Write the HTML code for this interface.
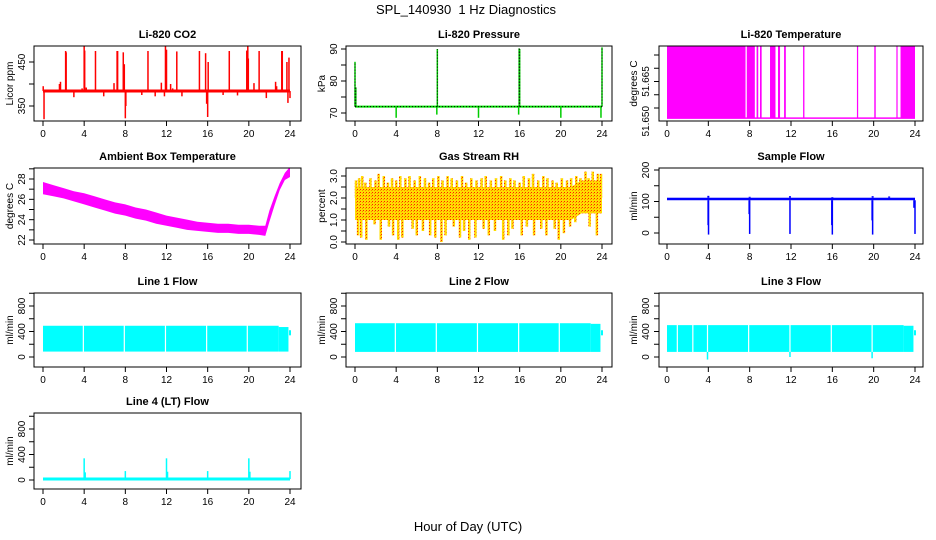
<!DOCTYPE html>
<html><head><meta charset="utf-8">
<style>
html,body{margin:0;padding:0;background:#fff;}
svg{display:block;font-family:"Liberation Sans",Arial,sans-serif;}
</style></head>
<body>
<svg id="chart" width="936" height="540" viewBox="0 0 936 540" xmlns="http://www.w3.org/2000/svg">
<defs>
<pattern id="rhpat" patternUnits="userSpaceOnUse" width="3" height="3">
<rect width="3" height="3" fill="#ffdd00"/>
<rect x="0" y="0" width="1" height="1" fill="#ff2000"/>
<rect x="2" y="1" width="1" height="1" fill="#ff8800"/>
</pattern>
</defs>
<text x="466" y="14" font-size="13" text-anchor="middle">SPL_140930&#160; 1 Hz Diagnostics</text>
<text x="468" y="531" font-size="13" text-anchor="middle">Hour of Day (UTC)</text>
</svg>
<script>
// ---------- data ----------
const xTicks = [0,4,8,12,16,20,24];

const co2Base = 384;
const co2SpikeT = [0.02,0.1,1.6,1.7,2.2,2.25,3.0,3.8,4.0,4.05,4.2,5.1,5.9,6.9,7.2,7.25,7.8,7.9,8.0,8.05,9.6,10.2,10.9,11.5,11.8,11.9,12.0,12.4,12.6,13.0,13.5,15.2,15.8,15.9,16.0,16.05,17.5,18.1,18.9,19.8,19.9,19.95,20.5,21.0,21.7,22.6,22.7,23.2,23.25,23.7,23.8,23.9,24.0];
const co2SpikeV = [395,320,400,405,475,472,370,390,487,476,392,475,372,402,475,475,472,445,322,350,375,475,372,403,372,487,478,400,390,474,372,475,470,355,325,450,375,475,374,476,487,458,402,475,368,405,395,475,475,450,357,460,368];
const co2Ticks = [350,400,450];
const co2Labels = ["350","","450"];

const presBase = 72;
const presUpT = [0.0,0.08,8.0,15.95,16.0,24.0];
const presUpV = [86,78,90,90.2,90,90.5];
const presDnT = [4.0,7.95,12.0,15.9,20.0,23.9];
const presDnV = [68.5,69.5,68.5,69.5,68.5,68.5];
const presTicks = [70,75,80,85,90];
const presLabels = ["70","","80","","90"];

const ltHigh = 51.6735, ltLow = 51.6462;
const ltStart = [0,7.72,8.67,9.0,9.97,10.74,11.33,13.17,18.38,20.06,22.2,22.6];
const ltEnd   = [7.6,8.5,8.83,9.16,10.5,10.94,11.5,13.3,18.5,20.2,22.3,24];
const ltTicks = [51.65,51.655,51.66,51.665,51.67];
const ltLabelV = [51.645,51.66];
const ltLabels = ["51.650","51.665"];

const ambT  = [0,1,2,3,4,5,6,7,8,9,10,11,12,13,14,15,16,17,18,19,20,21,21.6,22,22.5,23,23.5,24];
const ambHi = [27.7,27.4,27.1,26.8,26.6,26.3,26.0,25.7,25.5,25.2,25.0,24.7,24.4,24.2,24.0,23.8,23.7,23.6,23.6,23.5,23.5,23.4,23.4,24.9,26.3,27.6,28.6,29.2];
const ambLo = [26.5,26.3,26.1,25.8,25.5,25.2,24.9,24.6,24.4,24.1,23.9,23.6,23.4,23.2,23.0,22.9,22.8,22.7,22.7,22.6,22.6,22.5,22.4,23.8,25.4,26.9,27.9,28.2];
const ambTicks = [22,23,24,25,26,27,28,29];
const ambLabels = ["22","","24","","26","","28",""];

const rhCoreT  = [0,21,22,24];
const rhCoreHi = [2.5,2.5,2.8,2.8];
const rhCoreLo = [1.0,1.0,1.3,1.3];
const rhUpT = [0.1,0.4,0.7,1.0,1.5,2.0,2.3,2.8,3.2,3.6,4.0,4.4,4.9,5.3,5.8,6.3,6.8,7.2,7.6,8.1,8.5,9.0,9.4,9.9,10.4,10.8,11.3,11.8,12.3,12.7,13.2,13.7,14.2,14.6,15.1,15.5,16.0,16.4,16.9,17.3,17.8,18.3,18.7,19.2,19.6,20.1,20.6,21.0,21.5,21.9,22.4,22.7,23.1,23.6,23.9];
const rhUpV = [2.8,2.9,3.0,2.7,2.9,2.8,3.1,3.0,2.7,2.9,2.8,3.0,2.9,3.0,2.8,3.0,2.9,2.7,2.9,3.0,2.8,3.0,2.9,2.8,3.0,2.7,2.9,2.8,2.9,3.0,2.8,2.9,3.0,2.8,2.9,2.8,2.7,3.0,2.9,3.1,2.8,3.0,2.9,2.8,2.7,2.9,2.8,2.9,3.0,2.9,3.2,2.9,3.2,3.1,3.1];
const rhDnT = [0.3,0.6,1.1,1.9,2.5,3.3,3.7,4.2,4.6,5.6,6.0,6.6,7.3,7.8,8.4,8.8,9.6,10.2,10.6,11.1,11.7,12.5,13.0,13.6,14.4,14.9,15.3,16.2,16.7,17.4,18.1,18.6,19.4,19.8,20.3,20.9,21.4,22.8,23.5];
const rhDnV = [0.3,0.2,0.1,0.8,0.1,0.7,0.3,0.1,0.2,0.6,0.3,0.5,0.3,0.2,0.0,0.3,0.7,0.2,0.5,0.1,0.2,0.6,0.3,0.5,0.1,0.3,0.6,0.3,0.7,0.3,0.6,0.3,0.6,0.1,0.4,0.7,0.9,0.7,0.3];
const rhTicks = [0,0.5,1,1.5,2,2.5,3];
const rhLabels = ["0.0","","1.0","","2.0","","3.0"];

const sfHi = 112, sfLo = 104;
const sfDnT = [3.98,4.02,7.95,8.0,11.9,15.95,16.0,19.85,19.9,23.9,24.0];
const sfDnV = [25,-5,60,-3,-3,25,-5,40,-5,80,-3];
const sfUpT = [4.0,8.0,11.9,16.0,19.9,21.5];
const sfUpV = [118,115,117,114,117,116];
const sfTicks = [0,50,100,150,200];
const sfLabels = ["0","","100","","200"];

const flowTicks = [0,200,400,600,800,1000];
const flowLabels = ["0","","400","","800",""];

const l1Top = 490, l1Bot = 85, l1EndTop = 470;
const l1Gaps = [3.92,7.9,11.9,15.9,19.85];
const l2Top = 530, l2Bot = 80, l2EndTop = 520;
const l2Gaps = [3.92,7.9,11.9,15.9,19.85];
const l3Top = 500, l3Bot = 80, l3EndTop = 490;
const l3Gaps = [1.0,2.5,3.92,7.9,11.9,15.9,19.85];
const l3DipT = [3.92,11.9,19.85];
const l3DipV = [-40,0,-20];

const l4Base = 15;
const l4SpikeT = [4.0,4.1,8.0,12.0,12.1,16.0,20.0,20.1,24.0];
const l4SpikeV = [340,120,140,340,130,140,340,130,140];

// ---------- layout ----------
const svg = document.getElementById('chart');
const NS = 'http://www.w3.org/2000/svg';
const cols = [{l:34,r:301,x0:43,x24:290,ylab:13,tlab:25},{l:346,r:612,x0:355,x24:602,ylab:325,tlab:337},{l:659,r:923,x0:667,x24:915,ylab:637,tlab:649}];
const rows = [{t:46,b:121},{t:168,b:244},{t:293,b:367},{t:413,b:489}];

function el(tag, attrs, parent){
  const e = document.createElementNS(NS, tag);
  for (const k in attrs) e.setAttribute(k, attrs[k]);
  (parent||svg).appendChild(e);
  return e;
}

function makePanel(name, title, ylab, ci, ri, v1, p1, v2, p2, ticks, labels){
  const c = cols[ci], r = rows[ri];
  const g = el('g', {});
  
  
  const P = {g, c, r,
    x: t => c.x0 + (c.x24 - c.x0) * t / 24,
    y: v => p1 + (p2 - p1) * (v - v1) / (v2 - v1)};
  const clip = el('clipPath', {id: 'clip-' + name}, g);
  el('rect', {x:c.l, y:r.t, width:c.r-c.l, height:r.b-r.t}, clip);
  P.plot = el('g', {'clip-path':'url(#clip-' + name + ')'}, g);
  
  
  P.finish = function(){
    const box = el('rect', {x:c.l, y:r.t, width:c.r-c.l, height:r.b-r.t, fill:'none', stroke:'#000', 'stroke-width':1}, g);
    
    
    const t = el('text', {x:(c.l+c.r)/2, y:r.t-8, 'font-size':11, 'font-weight':'bold', 'text-anchor':'middle'}, g);
    t.textContent = title;
    
    
    const yl = el('text', {x:c.ylab, y:(r.t+r.b)/2, 'font-size':10, 'text-anchor':'middle', transform:'rotate(-90 ' + c.ylab + ' ' + (r.t+r.b)/2 + ')'}, g);
    yl.textContent = ylab;
    
    
    const xa = el('g', {}, g);
    
    
    xTicks.forEach(tv => {
      const px = P.x(tv);
      el('line', {x1:px, x2:px, y1:r.b, y2:r.b+5, stroke:'#000'}, xa);
      const tl = el('text', {x:px, y:r.b+16, 'font-size':10, 'text-anchor':'middle'}, xa);
      tl.textContent = tv;
      
      
    });
    const ya = el('g', {}, g);
    
    
    ticks.forEach((tv, i) => {
      const py = P.y(tv);
      el('line', {x1:c.l-5, x2:c.l, y1:py, y2:py, stroke:'#000'}, ya);
      if (labels && labels[i]) {
        const tl = el('text', {x:c.tlab, y:py, 'font-size':10, 'text-anchor':'middle', transform:'rotate(-90 ' + c.tlab + ' ' + py + ')'}, ya);
        tl.textContent = labels[i];
        
        
      }
    });
    return ya;
  };
  return P;
}
function vline(P, t, a, b, color, w){
  return el('line', {x1:P.x(t), x2:P.x(t), y1:P.y(a), y2:P.y(b), stroke:color, 'stroke-width':w||1}, P.plot);
}
function band(P, ts, hi, lo, fill){
  let pts = ts.map((t,i) => P.x(t) + ',' + P.y(hi[i]));
  pts = pts.concat(ts.map((t,i) => P.x(t) + ',' + P.y(lo[i])).reverse());
  return el('polygon', {points:pts.join(' '), fill:fill}, P.plot);
}

// CO2
let P = makePanel('co2', 'Li-820 CO2', 'Licor ppm', 0, 0, 350, 106, 450, 62, co2Ticks, co2Labels);
co2SpikeT.forEach((t,i) => vline(P, t, co2Base, co2SpikeV[i], '#ff0000', 1.5));
el('line', {x1:P.x(0), x2:P.x(24), y1:P.y(co2Base), y2:P.y(co2Base), stroke:'#ff0000', 'stroke-width':3}, P.plot);
P.finish();

// Pressure
P = makePanel('pressure', 'Li-820 Pressure', 'kPa', 1, 0, 70, 113, 90, 49, presTicks, presLabels);
presUpT.forEach((t,i) => vline(P, t, presBase, presUpV[i], '#00cc00', 1.5));
presDnT.forEach((t,i) => vline(P, t, presBase, presDnV[i], '#00cc00', 1.5));
el('line', {x1:P.x(0), x2:P.x(24), y1:P.y(presBase), y2:P.y(presBase), stroke:'#00dd00', 'stroke-width':2}, P.plot);
el('line', {x1:P.x(0), x2:P.x(24), y1:P.y(presBase), y2:P.y(presBase), stroke:'#000', 'stroke-width':1, 'stroke-dasharray':'1,2'}, P.plot);
presUpT.forEach((t,i) => { const l = vline(P, t, presBase, presUpV[i], '#000', 1); l.setAttribute('stroke-dasharray','1,2'); });
P.finish();

// Li-820 Temperature
P = makePanel('li820-temp', 'Li-820 Temperature', 'degrees C', 2, 0, 51.65, 108, 51.67, 55, ltTicks, null);
ltStart.forEach((s,i) => {
  el('rect', {x:P.x(s), y:P.y(ltHigh), width:Math.max(1.2, P.x(ltEnd[i]) - P.x(s)), height:P.y(ltLow) - P.y(ltHigh), fill:'#ff00ff'}, P.plot);
});
el('line', {x1:P.x(0), x2:P.x(24), y1:P.y(ltLow), y2:P.y(ltLow), stroke:'#ff00ff', 'stroke-width':1.5}, P.plot);
let ya = P.finish();
ltLabelV.forEach((v,i) => {
  const py = P.y(v), c = P.c;
  const tl = el('text', {x:c.tlab, y:py, 'font-size':10, 'text-anchor':'middle', transform:'rotate(-90 ' + c.tlab + ' ' + py + ')'}, ya);
  tl.textContent = ltLabels[i];
  
  
});

// Ambient
P = makePanel('ambient-temp', 'Ambient Box Temperature', 'degrees C', 0, 1, 22, 240, 28, 179, ambTicks, ambLabels);
band(P, ambT, ambHi, ambLo, '#ff00ff');
P.finish();

// RH
P = makePanel('gas-rh', 'Gas Stream RH', 'percent', 1, 1, 0, 242, 3, 176, rhTicks, rhLabels);
band(P, rhCoreT, rhCoreHi, rhCoreLo, 'url(#rhpat)');
rhUpT.forEach((t,i) => vline(P, t, 2.0, rhUpV[i], 'url(#rhpat)', 2.5));
rhDnT.forEach((t,i) => vline(P, t, 1.5, rhDnV[i], 'url(#rhpat)', 2.5));
P.finish();

// Sample flow
P = makePanel('sample-flow', 'Sample Flow', 'ml/min', 2, 1, 0, 233, 200, 170, sfTicks, sfLabels);
el('rect', {x:P.x(0), y:P.y(sfHi), width:P.x(24)-P.x(0), height:P.y(sfLo)-P.y(sfHi), fill:'#0000ff'}, P.plot);
sfDnT.forEach((t,i) => vline(P, t, sfLo, sfDnV[i], '#0000ff', 1.5));
sfUpT.forEach((t,i) => vline(P, t, sfHi, sfUpV[i], '#0000ff', 2));
P.finish();

// Line flows
function flowPanel(name, title, ci, top, bot, endTop, gaps, dipT, dipV){
  const P = makePanel(name, title, 'ml/min', ci, 2, 0, 357, 800, 306, flowTicks, flowLabels);
  el('rect', {x:P.x(0), y:P.y(top), width:P.x(22.9)-P.x(0), height:P.y(bot)-P.y(top), fill:'#00ffff'}, P.plot);
  el('rect', {x:P.x(22.9), y:P.y(endTop), width:P.x(23.85)-P.x(22.9), height:P.y(bot)-P.y(endTop), fill:'#00ffff'}, P.plot);
  vline(P, 24, 340, 420, '#00ffff', 2);
  gaps.forEach(t => vline(P, t, bot-10, top+20, '#ffffff', 1.2));
  (dipT||[]).forEach((t,i) => vline(P, t, bot, dipV[i], '#00ffff', 1.5));
  P.finish();
}
flowPanel('line1-flow', 'Line 1 Flow', 0, l1Top, l1Bot, l1EndTop, l1Gaps);
flowPanel('line2-flow', 'Line 2 Flow', 1, l2Top, l2Bot, l2EndTop, l2Gaps);
flowPanel('line3-flow', 'Line 3 Flow', 2, l3Top, l3Bot, l3EndTop, l3Gaps, l3DipT, l3DipV);

// Line 4
P = makePanel('line4-flow', 'Line 4 (LT) Flow', 'ml/min', 0, 3, 0, 480, 800, 429, flowTicks, flowLabels);
el('line', {x1:P.x(0), x2:P.x(24), y1:P.y(l4Base), y2:P.y(l4Base), stroke:'#00ffff', 'stroke-width':3}, P.plot);
l4SpikeT.forEach((t,i) => vline(P, t, l4Base, l4SpikeV[i], '#00ffff', 1.5));
P.finish();
</script>
</body></html>
